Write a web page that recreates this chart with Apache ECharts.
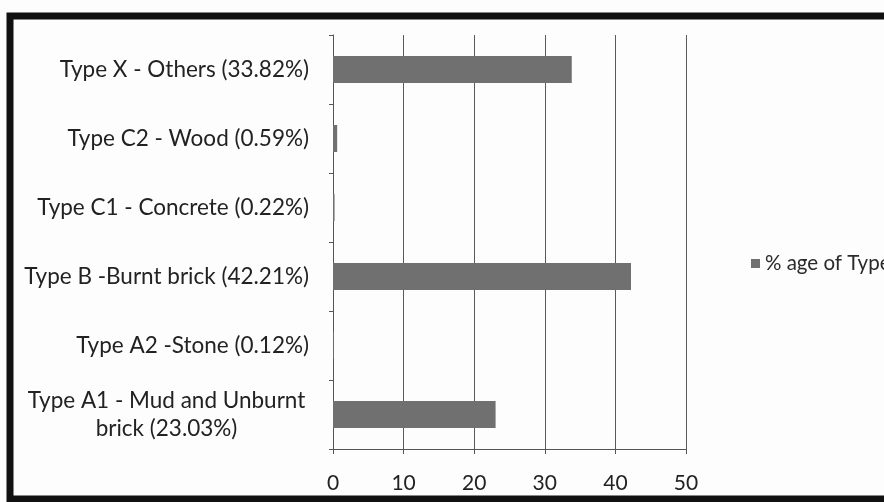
<!DOCTYPE html>
<html><head><meta charset="utf-8">
<script src="https://cdn.jsdelivr.net/npm/echarts@6/dist/echarts.min.js"></script>
<style>html,body{margin:0;padding:0;background:#fdfdfd}#c{width:884px;height:502px}</style>
</head><body><div id="c"></div>
<script>
const categories = [
  "Type A1 - Mud and Unburnt\nbrick (23.03%)",
  "Type A2 -Stone (0.12%)",
  "Type B -Burnt brick (42.21%)",
  "Type C1 - Concrete (0.22%)",
  "Type C2 - Wood (0.59%)",
  "Type X - Others (33.82%)"
];
const values = [23.03, 0.12, 42.21, 0.22, 0.59, 33.82];
const seriesName = "% age of Type";
const xTicks = [0, 10, 20, 30, 40, 50];

const chart = echarts.init(document.getElementById('c'));
const FONT = 'Lato';
chart.setOption({
  backgroundColor: '#fdfdfd',
  animation: false,
  grid: { left: 333, right: 198, top: 35, bottom: 53 },
  legend: {
    data: [seriesName], left: 746, top: 248, itemGap: 4,
    itemWidth: 9, itemHeight: 9, icon: 'rect',
    textStyle: { fontFamily: FONT, fontSize: 20.5, color: '#2a2a2a' }
  },
  xAxis: {
    type: 'value', min: xTicks[0], max: xTicks[xTicks.length - 1], interval: 10,
    axisLine: { show: true, lineStyle: { color: '#555', width: 1 } },
    axisTick: { show: true, length: 5, lineStyle: { color: '#555' } },
    axisLabel: { fontFamily: FONT, fontSize: 21, color: '#222', margin: 24 },
    splitLine: { show: true, lineStyle: { color: '#5a5a5a', width: 1 } }
  },
  yAxis: {
    type: 'category', data: categories,
    axisLine: { show: true, lineStyle: { color: '#555', width: 1 } },
    axisTick: { show: true, length: 4, lineStyle: { color: '#555' } },
    axisLabel: {
      fontFamily: FONT, fontSize: 22.5, color: '#222', margin: 24, lineHeight: 28,
      formatter: function (v) {
        if (v.indexOf('\n') >= 0) return '{c|' + v.split('\n').join('}\n{c|') + '}';
        return v;
      },
      rich: { c: { width: 285, align: 'center', fontFamily: FONT, fontSize: 22.5, color: '#222', lineHeight: 28 } }
    }
  },
  series: [{
    name: seriesName, type: 'bar', data: values, barWidth: 27,
    itemStyle: { color: '#707070' }
  }],
  graphic: [{
    type: 'rect', shape: { x: 10, y: 16, width: 900, height: 483 },
    style: { fill: 'none', stroke: '#111', lineWidth: 7 }, silent: true
  }]
});
</script></body></html>
